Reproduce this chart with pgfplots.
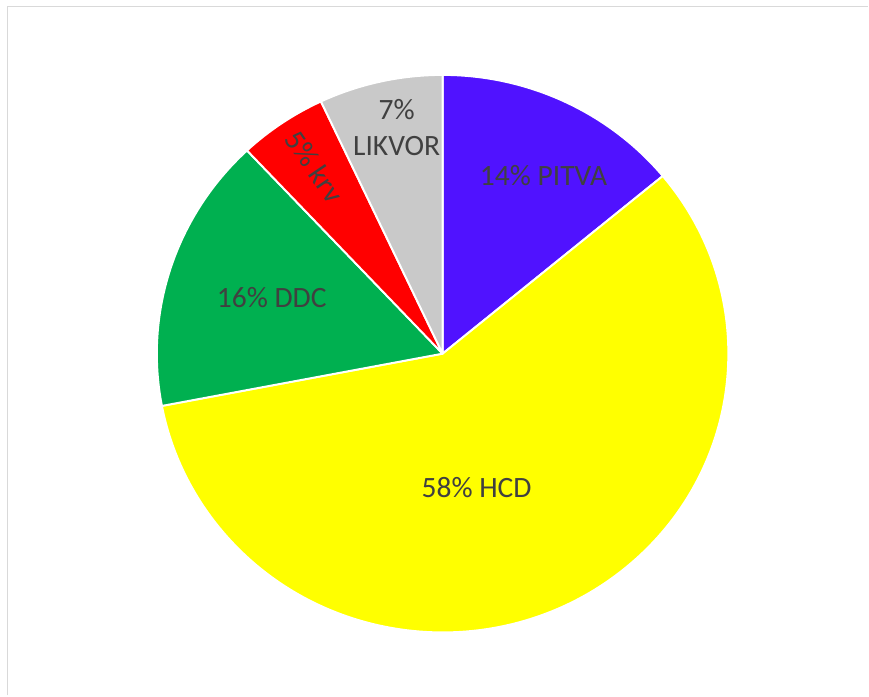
\documentclass[border=0pt]{standalone}
\usepackage{pgfplots}
\pgfplotsset{compat=1.18}
\usepackage{pgfplotstable}
\usepackage{fontspec}
\setmainfont{Carlito}
\definecolor{cpitva}{RGB}{80,18,255}
\definecolor{chcd}{RGB}{255,255,0}
\definecolor{cddc}{RGB}{0,176,80}
\definecolor{ckrv}{RGB}{255,0,0}
\definecolor{clikvor}{RGB}{201,201,201}
\definecolor{labtxt}{RGB}{64,64,64}
\definecolor{framegray}{RGB}{217,217,217}
\pgfplotstableread{
value color
14 cpitva
58 chcd
16 cddc
5 ckrv
7 clikvor
}\piedata
\begin{document}
\begin{tikzpicture}
\begin{axis}[
  x=1cm, y=1cm,
  xmin=0, xmax=17.38, ymin=0, ymax=13.92,
  hide axis, clip=false,
]
\path (rel axis cs:0,0) rectangle (rel axis cs:1,1);
\draw[framegray, line width=0.9pt] (axis cs:0.15,0) -- (axis cs:0.15,13.79) -- (axis cs:17.38,13.79);
\def\cum{0}
\pgfplotsforeachungrouped \i in {0,...,4}{%
  \pgfplotstablegetelem{\i}{value}\of\piedata \let\v\pgfplotsretval
  \pgfplotstablegetelem{\i}{color}\of\piedata \let\c\pgfplotsretval
  \pgfmathsetmacro\sa{90-3.6*\cum}%
  \pgfmathsetmacro\ea{90-3.6*(\cum+\v)}%
  \pgfmathsetmacro\sx{5.72*cos(\sa)}%
  \pgfmathsetmacro\sy{5.58*sin(\sa)}%
  \edef\temp{\noexpand\fill[\c, draw=white, line width=1.1pt, line join=round] (axis cs:8.86,6.84) -- (axis cs:{8.86+\sx},{6.84+\sy}) arc[start angle=\sa, end angle=\ea, x radius=5.72cm, y radius=5.58cm] -- cycle;}%
  \temp
  \pgfmathsetmacro\cum{\cum+\v}%
}
\begin{scope}[every node/.style={text=labtxt, font=\fontsize{16.8}{20.5}\selectfont, inner sep=0pt}]
\node at (axis cs:10.88,10.40) {14\% PITVA};
\node at (axis cs:9.54,4.16) {58\% HCD};
\node at (axis cs:5.44,7.96) {16\% DDC};
\node[rotate=-55.8] at (axis cs:6.30,10.58) {5\% krv};
\node[align=center] at (axis cs:7.94,11.36) {7\%\\LIKVOR};
\end{scope}
\end{axis}
\end{tikzpicture}
\end{document}
